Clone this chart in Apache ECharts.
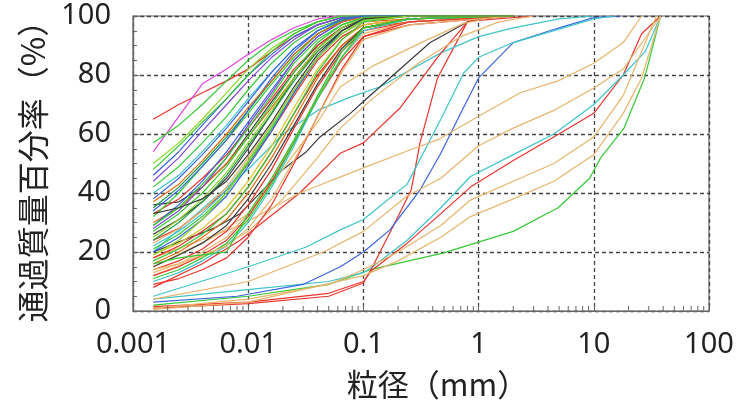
<!DOCTYPE html>
<html><head><meta charset="utf-8">
<script src="https://cdn.jsdelivr.net/npm/echarts@6/dist/echarts.min.js"></script>
<style>html,body{margin:0;padding:0;background:#fff}#c{width:740px;height:410px}</style>
</head><body><div id="c"></div>
<script>
// ---- tick labels ----
const X_TICK_LABELS = ['0.001', '0.01', '0.1', '1', '10', '100'];
const X_NAME = '粒径（mm）';
const Y_NAME = '通過質量百分率（%）';

// ---- fine-grained curves: shared grain sizes (mm) and passing percentages ----
const FINE_X = [0.0015, 0.0025, 0.004, 0.0065, 0.01, 0.016, 0.025, 0.04, 0.065, 0.1, 0.25, 2];
const FINE_Y = [
  [65,70,74,78,82,88,93,97,99.5,100,100,100],
  [54,66,77,82,87,92,96,99,100,100,100,100],
  [57,63,70,78,85,91,95,98,100,100,100,100],
  [50,57,65,74,82,89,94,98,100,100,100,100],
  [46,54,63,72,80,87,93,97,99.5,100,100,100],
  [44,52,61,70,78,86,92,97,99.5,100,100,100],
  [42,49,57,66,75,84,91,96,99,100,100,100],
  [40,46,54,63,72,81,89,95,98.5,100,100,100],
  [38,45,53,62,71,81,89,95,99,100,100,100],
  [36,37,42,50,60,71,81,90,96,99,100,100],
  [35,42,50,59,68,78,87,94,98.5,100,100,100],
  [33,38,45,53,62,72,82,90,96,99,100,100],
  [32,40,49,58,67,77,86,94,98,100,100,100],
  [30,35,42,50,59,69,79,88,95,98,99,100],
  [29,36,44,54,64,75,85,93,98,100,100,100],
  [28,34,42,52,63,74,85,93,98,100,100,100],
  [27,33,40,49,59,70,81,91,97,99.5,100,100],
  [26,31,37,45,55,67,79,89,96,99,100,100],
  [25,31,38,47,57,68,79,89,96,99.5,100,100],
  [24,28,34,41,50,61,73,85,93,97,99,100],
  [23,28,34,42,52,63,75,86,94,98,100,100],
  [22,27,33,41,51,62,74,86,94,98.5,100,100],
  [21,26,32,40,50,62,74,86,95,99,100,100],
  [20,25,31,39,49,61,74,86,95,99,100,100],
  [19,23,28,35,44,56,69,82,92,97,99,100],
  [18,22,27,33,42,54,67,80,90,96,99,100],
  [17,21,26,33,42,54,67,81,92,98,100,100],
  [16,20,25,31,40,52,65,79,90,96,98,100],
  [15,19,23,29,38,50,63,77,89,96,99,100],
  [14,17,21,27,36,48,62,76,88,95,98,100],
  [13,16,20,25,33,45,58,73,86,94,98,100],
  [12,15,19,24,32,44,57,72,85,93,97,100],
  [11,14,18,23,31,43,57,73,88,96,99,100],
  [10,13,17,22,30,42,56,72,86,95,99,100],
  [9,11,14,18,25,36,50,66,82,93,98,100],
  [14,16,19,22,28,38,51,66,81,92,97,100],
  [16,18,19,20,33,45,58,72,86,96,99,100],
  [48,56,64,72,80,88,94,98,100,100,100,100],
  [34,41,49,58,68,79,88,95,99,100,100,100],
  [24,30,37,46,56,67,78,88,95,99,100,100],
  [37,43,51,60,69,78,87,94,98,99.5,100,100],
  [29,35,43,52,62,73,84,92,97,99.5,100,100],
  [33,35,38,44,53,64,76,87,95,99,100,100],
  [19,24,31,40,51,63,75,86,94,98.5,100,100]
];

// ---- coarse / individual curves: [grain size mm, passing %] ----
const GREEN_COARSE = [[0.0015,2],[0.01,5],[0.05,9],[0.115,14],[0.49,19.6],[2,27],[4.9,35],[9.2,45],[11.5,52],[18.3,62],[27.6,79],[38,100]];
const RED_COARSE = [[0.0015,1.5],[0.01,3],[0.05,6],[0.1,10],[0.12,14],[0.24,23],[0.47,33],[0.85,42],[2,51],[4.5,59],[10,67],[18,80],[26,94],[38,100]];
const CYAN_COARSE = [[0.0015,4],[0.0085,7],[0.05,10],[0.1,13],[0.12,15],[0.24,24],[0.47,35],[0.85,45.6],[2,53],[4.5,60],[10,70],[18,80],[28,88],[38,100]];
const RED_STEEP = [[0.0015,1],[0.01,2.5],[0.05,5],[0.1,9.5],[0.12,15],[0.18,28.5],[0.26,41],[0.31,57],[0.44,79],[0.8,98],[1,98.5],[3,100]];
const BLUE_STEEP = [[0.0015,3],[0.008,5],[0.03,9],[0.063,15],[0.1,20],[0.17,27.5],[0.31,41],[0.47,53.5],[0.74,69],[1,79],[2,91],[5,96],[10,99.5],[17,100]];
const CYAN_STEEP = [[0.0015,5],[0.01,15],[0.032,21.7],[0.063,27.5],[0.1,31],[0.24,43],[0.47,65],[0.74,80.6],[1,86],[2,91],[10,99],[15,100]];
const CYAN_HIGH = [[0.0015,20],[0.005,38],[0.01,48],[0.02,60],[0.04,68],[0.077,72.5],[0.14,76],[0.47,87.5],[1,93],[2,96],[5,99],[10,100]];
const BLACK_MID = [[0.0015,20],[0.005,28],[0.0085,33],[0.02,48],[0.032,54],[0.042,59],[0.077,67],[0.1,71],[0.17,79],[0.38,91],[0.8,98],[1.5,100]];
const RED_MID = [[0.0015,8],[0.004,16],[0.0085,24],[0.028,40],[0.063,53.5],[0.1,57],[0.21,69],[0.44,86],[0.8,98],[1.2,100]];
const TAN_1 = [[0.0015,18],[0.0085,29],[0.028,40],[0.1,48.5],[0.27,55],[0.44,58],[1,66],[2.3,74],[4.9,78],[10,84],[18,91],[26,100]];
const TAN_2 = [[0.0015,4],[0.01,10],[0.045,20],[0.1,27],[0.24,39],[0.47,45],[1,56],[2,62],[4.5,68],[10,75.6],[18,82],[31,95],[38,100]];
const TAN_3 = [[0.0015,1],[0.01,4],[0.05,9],[0.1,14],[0.2,20],[0.47,29],[0.85,37.6],[2,44],[4.5,50],[10,59],[18,73],[26,88],[35,100]];
const TAN_4 = [[0.0015,0.5],[0.01,3],[0.1,12],[0.2,17],[0.47,25],[0.85,32],[2,38],[4.5,44],[10,53],[18,67],[26,79],[38,100]];
const TAN_A = [[0.0015,15],[0.005,25],[0.01,33],[0.02,48],[0.04,64],[0.063,76],[0.12,83],[0.36,92],[0.74,97.5],[1.5,100]];
const TAN_B = [[0.0015,12],[0.005,20],[0.01,27],[0.02,38],[0.04,52],[0.063,62],[0.12,72],[0.3,84],[0.7,93],[1.5,98],[3,100]];

// ---- styles ----
const PAL = {red:'#e8342c', green:'#35c935', lime:'#8fd42a', dgreen:'#1f9e46', blue:'#3b63e0',
  cyan:'#3ec4c8', tan:'#e8b56c', black:'#3a3a3a', magenta:'#dd45d8', purple:'#7f47d6',
  dorange:'#e06b14', yellow:'#d9c22a'};
const FINE_COLORS = ['red','magenta','green','lime','blue','purple','green','cyan','blue','black',
  'dgreen','red','green','dorange','blue','purple','green','black','lime','red','tan','cyan','green',
  'blue','yellow','red','green','dorange','black','red','tan','red','green','cyan','red','tan','green',
  'green','blue','dgreen','dorange','green','black','lime'];
const COARSE = [
  [GREEN_COARSE,'green'],[RED_COARSE,'red'],[CYAN_COARSE,'cyan'],[RED_STEEP,'red'],[BLUE_STEEP,'blue'],
  [CYAN_STEEP,'cyan'],[CYAN_HIGH,'cyan'],[BLACK_MID,'black'],[RED_MID,'red'],[TAN_1,'tan'],[TAN_2,'tan'],
  [TAN_3,'tan'],[TAN_4,'tan'],[TAN_A,'tan'],[TAN_B,'tan']
];

// minor tick positions of the log axis (2..9 in each decade)
const MINOR_X = [];
for (let k = -3; k <= 1; k++) for (let m = 2; m <= 9; m++) MINOR_X.push(m * Math.pow(10, k));

const series = [];
COARSE.forEach(([d, c]) => series.push({
  type:'line', data:d, showSymbol:false, symbol:'none', silent:true,
  lineStyle:{color:PAL[c], width:1.2}, z:2
}));
FINE_Y.forEach((row, i) => series.push({
  type:'line', data:FINE_X.map((x, j) => [x, row[j]]), showSymbol:false, symbol:'none', silent:true,
  lineStyle:{color:PAL[FINE_COLORS[i % FINE_COLORS.length]], width:1.2}, z:3
}));
series.push({
  type:'custom', silent:true, z:6, clip:false,
  data: MINOR_X.map(v => [v, 0]),
  renderItem: (p, api) => {
    const pt = api.coord([api.value(0), 0]);
    return {type:'line', shape:{x1:pt[0], y1:pt[1], x2:pt[0], y2:pt[1]-5},
      style:{stroke:'#666', lineWidth:1}};
  }
});

const chart = echarts.init(document.getElementById('c'), null, {renderer:'canvas'});
chart.setOption({
  animation:false,
  backgroundColor:'#fff',
  grid:{left:133, right:31, top:16, bottom:99, show:true, borderColor:'#666', borderWidth:1.2, backgroundColor:'transparent'},
  xAxis:{
    type:'log', logBase:10, min:0.001, max:100,
    name:X_NAME, nameLocation:'middle', nameGap:58,
    nameTextStyle:{fontFamily:'Noto Sans CJK JP', fontSize:31, color:'#222', padding:[0,0,0,33]},
    axisLine:{lineStyle:{color:'#666', width:1.2}},
    axisTick:{show:true, inside:true, length:6, lineStyle:{color:'#666'}},
    minorTick:{show:false},
    axisLabel:{fontFamily:'Noto Sans', fontSize:29, color:'#222', margin:19,
      formatter: v => X_TICK_LABELS[Math.round(Math.log10(v)) + 3]},
    splitLine:{show:true, lineStyle:{color:'#444', width:1.3, type:[4,3]}}
  },
  yAxis:{
    type:'value', min:0, max:100, interval:20,
    name:Y_NAME, nameLocation:'middle', nameRotate:90, nameGap:84,
    nameTextStyle:{fontFamily:'Noto Sans CJK JP', fontSize:32, color:'#222'},
    axisLine:{show:true, lineStyle:{color:'#666', width:1.2}},
    axisTick:{show:true, inside:true, length:6, lineStyle:{color:'#666'}},
    minorTick:{show:true, splitNumber:4, length:4, lineStyle:{color:'#666'}},
    axisLabel:{fontFamily:'Noto Sans', fontSize:29, color:'#222', margin:22},
    splitLine:{show:true, lineStyle:{color:'#444', width:1.3, type:[4,3]}}
  },
  series:series
});
</script></body></html>
